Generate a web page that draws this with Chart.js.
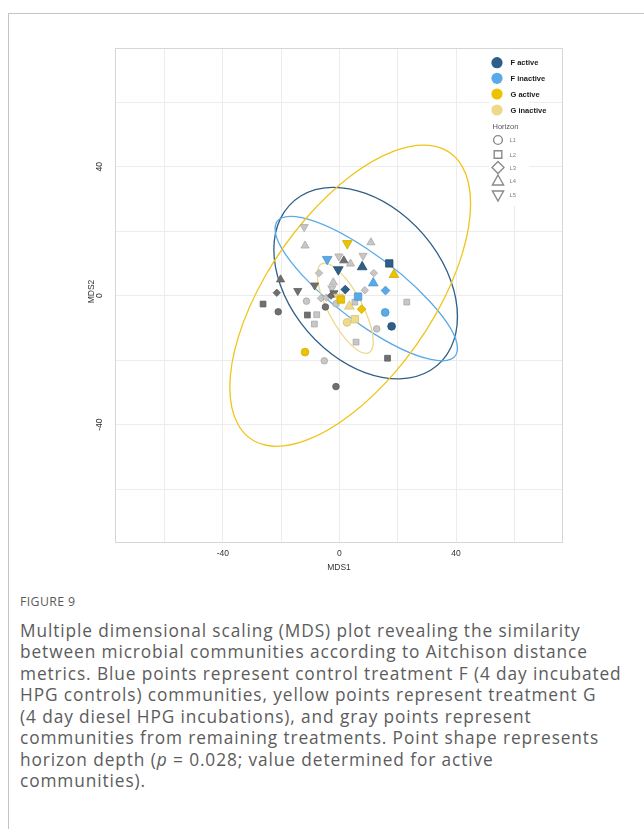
<!DOCTYPE html>
<html>
<head>
<meta charset="utf-8">
<script src="https://cdn.jsdelivr.net/npm/chart.js@4.4.1/dist/chart.umd.min.js"></script>
<style>
  html, body { margin: 0; padding: 0; background: #fff; }
  body { width: 644px; height: 829px; position: relative; overflow: hidden; }
  #frame { position: absolute; left: 8px; top: 13px; width: 700px; height: 900px;
           border-left: 1px solid #c4c4c4; border-top: 1px solid #c4c4c4; }
  #plot { position: absolute; left: 0; top: 0; width: 644px; height: 590px; }
  #caption { position: absolute; left: 20px; top: 592px; width: 624px;
             font-family: "Open Sans", sans-serif; color: #5c5c5c; white-space: nowrap; }
  #caption .fig { font-size: 12.3px; letter-spacing: 0.4px; line-height: 20px; color: #5a5a5a; }
  #caption .txt { font-size: 17.3px; letter-spacing: 0.9px; line-height: 21.45px; margin-top: 8px; }
  #caption i { font-style: italic; }
</style>
</head>
<body>
<div id="frame"></div>
<div id="plot"><canvas id="mds" width="644" height="590"></canvas></div>
<div id="caption">
  <div class="fig">FIGURE 9</div>
  <div class="txt">Multiple dimensional scaling (MDS) plot revealing the similarity<br>between microbial communities according to Aitchison distance<br>metrics. Blue points represent control treatment F (4 day incubated<br>HPG controls) communities, yellow points represent treatment G<br>(4 day diesel HPG incubations), and gray points represent<br>communities from remaining treatments. Point shape represents<br>horizon depth (<i>p</i> = 0.028; value determined for active<br>communities).</div>
</div>
<script>
// MDS coordinates per community: [MDS1, MDS2, horizon]
const fActive = [[17.9, -9.5, 'L1'], [17.1, 10.0, 'L2'], [2.0, 1.9, 'L3'], [7.8, 8.9, 'L4'], [-0.4, 8.1, 'L5']];
const fInactive = [[15.7, -5.2, 'L1'], [6.4, -0.3, 'L2'], [15.8, 1.6, 'L3'], [11.6, 3.9, 'L4'], [-4.2, 11.3, 'L5']];
const gActive = [[-11.8, -17.5, 'L1'], [0.5, -1.2, 'L2'], [7.6, -4.2, 'L3'], [18.7, 6.5, 'L4'], [2.7, 16.2, 'L5']];
const gInactive = [[2.6, -8.3, 'L1'], [5.3, -7.3, 'L2'], [3.4, -3.3, 'L4'], [-0.3, -0.4, 'L5']];
const otherActive = [
  [-21.0, -5.0, 'L1'], [-4.8, -3.5, 'L1'], [-1.2, -28.2, 'L1'],
  [-26.2, -2.6, 'L2'], [-11.0, -6.0, 'L2'], [16.5, -19.4, 'L2'],
  [-21.5, 0.9, 'L3'], [-2.9, 0.0, 'L3'],
  [-20.2, 5.0, 'L4'], [1.5, 10.9, 'L4'],
  [-14.3, 1.5, 'L5'], [-8.5, 3.2, 'L5'], [-1.9, 0.8, 'L5']
];
const otherInactive = [
  [-11.3, -1.7, 'L1'], [-1.2, -2.5, 'L1'], [12.8, -10.3, 'L1'], [-5.2, -20.2, 'L1'],
  [5.3, -2.0, 'L2'], [23.1, -2.0, 'L2'], [-7.8, -5.9, 'L2'], [-8.6, -8.8, 'L2'], [5.7, -14.4, 'L2'],
  [11.8, 7.0, 'L3'], [-7.0, 7.0, 'L3'], [8.7, 1.7, 'L3'], [-6.3, -0.8, 'L3'], [-4.5, -0.6, 'L3'],
  [-11.8, 15.5, 'L4'], [10.8, 16.5, 'L4'], [3.8, 9.9, 'L4'], [-2.1, 4.1, 'L4'],
  [-12.1, 21.3, 'L5'], [-0.2, 12.2, 'L5'], [8.1, 12.4, 'L5'], [-2.6, 2.3, 'L5']
];

// Normal-theory ellipses: [centre MDS1, centre MDS2, half-extent MDS1, half-extent MDS2, correlation]
const fActiveEllipse = [9.0, 3.9, 31.5, 29.7, -0.35];
const fInactiveEllipse = [9.2, 2.2, 31.3, 22.4, -0.83];
const gActiveEllipse = [3.7, 0.0, 41.3, 46.7, 0.61];
const gInactiveEllipse = [2.0, -3.9, 9.6, 14.0, -0.74];

const groupLabels = ['F active', 'F inactive', 'G active', 'G inactive'];
const horizonLabels = ['L1', 'L2', 'L3', 'L4', 'L5'];
const xTickLabels = [-40, 0, 40];
const yTickLabels = [40, 0, -40];
const gridValues = [-60, -40, -20, 0, 20, 40, 60];

const palette = {
  fActive: ['#2f5f88', '#234c70'],
  fInactive: ['#5aaae8', '#4b95cf'],
  gActive: ['#ebc300', '#d2ad00'],
  gInactive: ['#eedb8c', '#d6c274'],
  otherActive: ['#6f6f6f', '#5f5f5f'],
  otherInactive: ['#c7c7c7', '#a9a9a9']
};

const shapeOf = { L1: 'circle', L2: 'rect', L3: 'rectRot', L4: 'triangle', L5: 'triangle' };
const bigRadius = { L1: 3.9, L2: 5.2, L3: 4.4, L4: 5.6, L5: 5.6 };
const smallRadius = { L1: 3.3, L2: 4.1, L3: 3.7, L4: 4.7, L5: 4.7 };

function pointSeries(label, rows, colours, big, order) {
  const radii = big ? bigRadius : smallRadius;
  return {
    label,
    data: rows.map(r => ({ x: r[0], y: r[1], h: r[2] })),
    backgroundColor: colours[0],
    borderColor: colours[1],
    borderWidth: 0.8,
    order,
    pointStyle: c => (c.raw ? shapeOf[c.raw.h] : 'circle'),
    pointRotation: c => (c.raw && c.raw.h === 'L5' ? 180 : 0),
    pointRadius: c => (c.raw ? radii[c.raw.h] : 4),
    pointHoverRadius: c => (c.raw ? radii[c.raw.h] : 4)
  };
}

// Panel border, ellipses, axis text and the legend
const panelDecor = {
  id: 'panelDecor',
  beforeDatasetsDraw(chart) {
    const { ctx, chartArea: a, scales: { x, y } } = chart;
    const kx = x.getPixelForValue(1) - x.getPixelForValue(0);
    const ky = y.getPixelForValue(0) - y.getPixelForValue(1);
    const ellipses = [
      [fActiveEllipse, palette.fActive[0]],
      [fInactiveEllipse, palette.fInactive[0]],
      [gActiveEllipse, '#f0c419'],
      [gInactiveEllipse, '#ecd98a']
    ];
    ctx.save();
    ctx.beginPath();
    ctx.rect(a.left, a.top, a.right - a.left, a.bottom - a.top);
    ctx.clip();
    ellipses.forEach(([e, col]) => {
      const [cx, cy, rx, ry, rho] = e;
      ctx.save();
      ctx.transform(rx * kx, -rho * ry * ky, 0, -ry * Math.sqrt(1 - rho * rho) * ky,
        x.getPixelForValue(cx), y.getPixelForValue(cy));
      ctx.beginPath();
      ctx.arc(0, 0, 1, 0, Math.PI * 2);
      ctx.restore();
      ctx.strokeStyle = col;
      ctx.lineWidth = 1.3;
      ctx.stroke();
    });
    ctx.restore();
  },
  afterDraw(chart) {
    const { ctx, chartArea: a, scales: { x, y } } = chart;
    ctx.save();
    // panel border
    ctx.strokeStyle = '#d6d6d6';
    ctx.lineWidth = 1;
    ctx.strokeRect(a.left + 0.5, a.top + 0.5, a.right - a.left - 1, a.bottom - a.top - 1);

    // axis tick labels and titles
    ctx.fillStyle = '#333';
    ctx.font = '8.5px "Liberation Sans", Arial, sans-serif';
    ctx.textAlign = 'center';
    ctx.textBaseline = 'middle';
    xTickLabels.forEach(v => ctx.fillText(String(v), x.getPixelForValue(v), a.bottom + 10.5));
    ctx.fillText('MDS1', (a.left + a.right) / 2, a.bottom + 25);
    yTickLabels.forEach(v => {
      ctx.save();
      ctx.translate(a.left - 15.5, y.getPixelForValue(v));
      ctx.rotate(-Math.PI / 2);
      ctx.fillText(String(v), 0, 0);
      ctx.restore();
    });
    ctx.save();
    ctx.translate(a.left - 23.5, (a.top + a.bottom) / 2 - 4);
    ctx.rotate(-Math.PI / 2);
    ctx.fillText('MDS2', 0, 0);
    ctx.restore();

    // legend
    const lx = 497, ly = [62.7, 78.3, 94, 110];
    ctx.fillStyle = '#fff';
    ctx.fillRect(489, 50, 40, 156);
    const legendFill = [palette.fActive[0], palette.fInactive[0], palette.gActive[0], '#ecd98a'];
    ctx.textAlign = 'left';
    groupLabels.forEach((g, i) => {
      ctx.beginPath();
      ctx.arc(lx, ly[i], 5.6, 0, Math.PI * 2);
      ctx.fillStyle = legendFill[i];
      ctx.fill();
      ctx.fillStyle = '#1a1a1a';
      ctx.font = 'bold 7.5px "Liberation Sans", Arial, sans-serif';
      ctx.fillText(g, 510.5, ly[i] + 0.5);
    });
    ctx.fillStyle = '#555';
    ctx.font = '7.5px "Liberation Sans", Arial, sans-serif';
    ctx.fillText('Horizon', 492.5, 127);
    const sy = [140, 154.5, 167.5, 181, 195];
    const sx = 498;
    ctx.strokeStyle = '#8a8a8a';
    ctx.lineWidth = 1.4;
    horizonLabels.forEach((h, i) => {
      const cy = sy[i];
      ctx.beginPath();
      if (h === 'L1') {
        ctx.arc(sx, cy, 4.4, 0, Math.PI * 2);
      } else if (h === 'L2') {
        ctx.rect(sx - 3.8, cy - 3.8, 7.6, 7.6);
      } else if (h === 'L3') {
        ctx.moveTo(sx, cy - 6); ctx.lineTo(sx + 6, cy); ctx.lineTo(sx, cy + 6); ctx.lineTo(sx - 6, cy); ctx.closePath();
      } else if (h === 'L4') {
        ctx.moveTo(sx, cy - 6); ctx.lineTo(sx + 5.6, cy + 4); ctx.lineTo(sx - 5.6, cy + 4); ctx.closePath();
      } else {
        ctx.moveTo(sx, cy + 6); ctx.lineTo(sx + 5.6, cy - 4); ctx.lineTo(sx - 5.6, cy - 4); ctx.closePath();
      }
      ctx.stroke();
      ctx.fillStyle = '#808080';
      ctx.font = '5.8px "Liberation Sans", Arial, sans-serif';
      ctx.fillText(h, 509.5, cy + 0.5);
    });
    ctx.restore();
  }
};

const gridScale = (min, max) => ({
  type: 'linear',
  min, max,
  afterBuildTicks(s) { s.ticks = gridValues.map(v => ({ value: v })); },
  ticks: { display: false },
  grid: { color: '#ececec', lineWidth: 1, drawTicks: false },
  border: { display: false }
});

const xScale = gridScale(-77, 76.7);
xScale.afterFit = s => { s.height = 0; };
const yScale = gridScale(-76.7, 76.8);
yScale.afterFit = s => { s.width = 0; };

new Chart(document.getElementById('mds'), {
  type: 'scatter',
  data: {
    datasets: [
      pointSeries('F active', fActive, palette.fActive, true, 1),
      pointSeries('F inactive', fInactive, palette.fInactive, true, 2),
      pointSeries('G active', gActive, palette.gActive, true, 3),
      pointSeries('G inactive', gInactive, palette.gInactive, true, 4),
      pointSeries('other active', otherActive, palette.otherActive, false, 5),
      pointSeries('other inactive', otherInactive, palette.otherInactive, false, 6)
    ]
  },
  options: {
    responsive: false,
    animation: false,
    layout: { padding: { left: 115, top: 48, right: 81, bottom: 47 } },
    plugins: { legend: { display: false }, tooltip: { enabled: false } },
    scales: { x: xScale, y: yScale }
  },
  plugins: [panelDecor]
});
</script>
</body>
</html>
